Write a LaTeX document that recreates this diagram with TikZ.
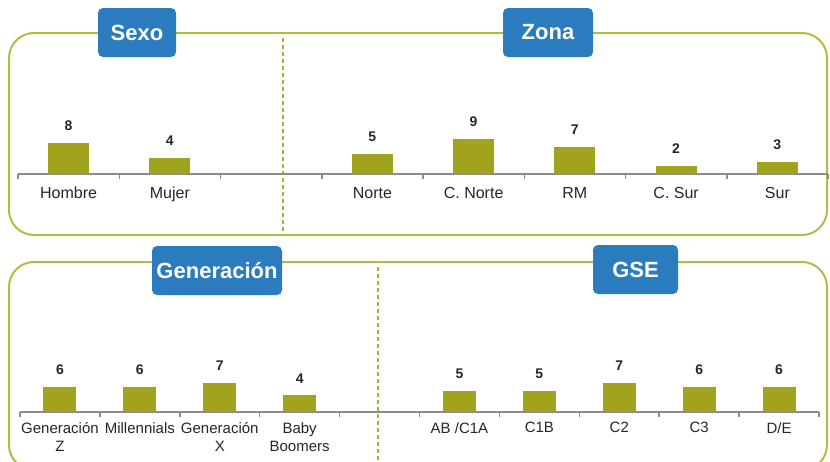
\documentclass[tikz,border=0pt]{standalone}
\usepackage{fontspec}
\setmainfont{Liberation Sans}
\usetikzlibrary{positioning}
\definecolor{frameolive}{HTML}{B7B947}
\definecolor{barolive}{HTML}{A2A31C}
\definecolor{dividerolive}{HTML}{AEB02F}
\definecolor{titleblue}{HTML}{2B7CBF}
\definecolor{axisgray}{HTML}{8C8C8C}
\definecolor{labelgray}{HTML}{262626}
\tikzset{
  panel/.style={draw=frameolive, line width=2pt, rounded corners=25pt},
  divider/.style={draw=dividerolive, line width=2pt, dash pattern=on 4pt off 3pt},
  titlebox/.style={fill=titleblue, rounded corners=5pt, text=white, inner sep=0pt,
                   minimum height=49pt, font=\fontsize{22}{24}\selectfont\bfseries},
  axisline/.style={draw=axisgray, line width=1.5pt},
  bar/.style={fill=barolive, inner sep=0pt, anchor=south},
  valuelabel/.style={font=\fontsize{14}{16}\selectfont\bfseries, text=labelgray, inner sep=0pt},
  catlabel/.style={text=labelgray, inner sep=0pt, align=center, anchor=north}
}

\begin{document}
\begin{tikzpicture}[x=1pt, y=-1pt]
  \useasboundingbox (0,0) rectangle (830,461);

  % Sexo / Zona
  \draw[panel] (9,33) rectangle (827,235);
  \draw[divider] (283,38) -- (283,235);
  \draw[axisline] (18,174) -- (828,174);
  \foreach \k in {0,...,8}
    \draw[axisline] ({18+101.25*\k},174) -- ++(0,5);
  \foreach \k/\cat/\val in {0/Hombre/8, 1/Mujer/4, 3/Norte/5, 4/C. Norte/9, 5/RM/7, 6/C. Sur/2, 7/Sur/3}{
    \node[bar, minimum width=41pt, minimum height=\val*3.9pt] (topbar\k) at ({18+101.25*(\k+0.5)},174) {};
    \node[valuelabel, above=12pt of topbar\k] (topval\k) {\val};
    \node[catlabel, font=\fontsize{16}{18}\selectfont] (topcat\k) at ({18+101.25*(\k+0.5)},187) {\cat};
  }
  \node[titlebox, minimum width=78pt] (sexo) at (137,32.5) {Sexo};
  \node[titlebox, minimum width=90pt] (zona) at (548,32.5) {Zona};

  % Generacion / GSE
  \draw[panel] (9,262) rectangle (827,470);
  \draw[divider] (378,267) -- (378,470);
  \draw[axisline] (20,412) -- (819,412);
  \foreach \k in {0,...,10}
    \draw[axisline] ({20+79.9*\k},412) -- ++(0,5);
  \foreach \k/\cat/\val in {0/{Generación\\Z}/6, 1/Millennials/6, 2/{Generación\\X}/7, 3/{Baby\\Boomers}/4,
                            5/{AB /C1A}/5, 6/C1B/5, 7/C2/7, 8/C3/6, 9/{D/E}/6}{
    \node[bar, minimum width=33pt, minimum height=\val*4.1pt] (botbar\k) at ({20+79.9*(\k+0.5)},412) {};
    \node[valuelabel, above=12pt of botbar\k] (botval\k) {\val};
    \node[catlabel, font=\fontsize{15}{18}\selectfont] (botcat\k) at ({20+79.9*(\k+0.5)},422) {\cat};
  }
  \node[titlebox, minimum width=130pt] (generacion) at (217,270.5) {Generación};
  \node[titlebox, minimum width=85pt] (gse) at (635.5,269.5) {GSE};
\end{tikzpicture}
\end{document}
